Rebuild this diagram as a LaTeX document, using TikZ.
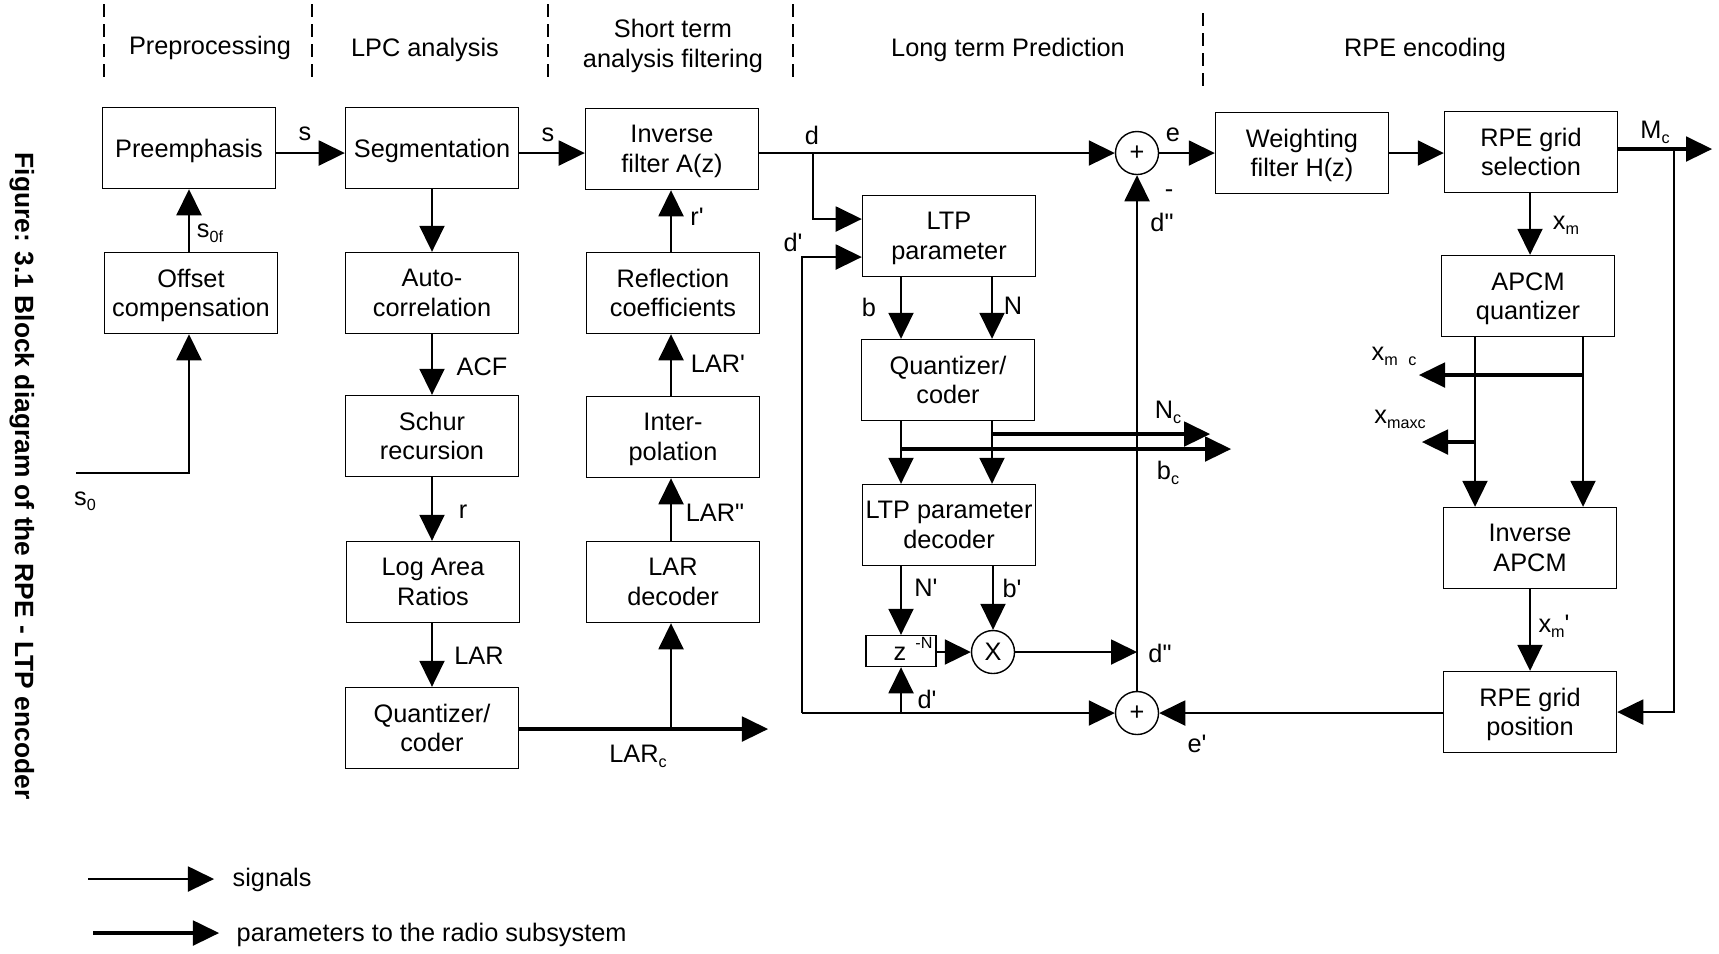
\documentclass[tikz,border=0pt]{standalone}
\usepackage{fontspec}
\newfontfamily\af{Liberation Sans}
\usetikzlibrary{arrows.meta}
\newcommand{\mf}{\af\fontsize{7.2}{8.4}\selectfont}
\newcommand{\sbx}[1]{\raisebox{-1.4pt}{\fontsize{4.6}{5}\selectfont #1}}
\begin{document}
\begin{tikzpicture}[x=0.01cm,y=-0.01cm, font=\mf,
  Tri/.tip={Triangle[length=2.6mm,width=2.55mm,line width=0pt]},
  blk/.style={draw, line width=0.4pt, minimum width=1.73cm, minimum height=0.81cm, inner sep=0pt, align=center, text depth=0pt},
  sumc/.style={circle, draw, line width=0.4pt, minimum size=0.43cm, inner sep=0pt},
  sig/.style={line width=0.4pt, -{Tri}},
  par/.style={line width=1.2pt, -{Tri}},
  hd/.style={line width=0.4pt, dash pattern=on 0.13cm off 0.07cm},
  lbl/.style={inner sep=0pt}]
\path[use as bounding box] (0,0) rectangle (1719,953);

% headers
\draw[hd] (104,4) -- (104,79);
\draw[hd] (312,4) -- (312,79);
\draw[hd] (548,4) -- (548,79);
\draw[hd] (793,4) -- (793,79);
\draw[hd] (1203,13) -- (1203,88);
\node[lbl] (h1) at (210,48) {Preprocessing};
\node[lbl] (h2) at (425,50) {LPC analysis};
\node[lbl, align=center] (h3) at (673,46) {Short term\\analysis filtering};
\node[lbl] (h4) at (1008,50) {Long term Prediction};
\node[lbl] (h5) at (1425,50) {RPE encoding};

% caption
\node[rotate=-90, font=\af\bfseries\fontsize{7.5}{9}\selectfont] (cap) at (22,476) {Figure: 3.1 Block diagram of the RPE - LTP encoder};

% blocks
\node[blk] (pre) at (189,148) {Preemphasis};
\node[blk] (seg) at (432,148) {Segmentation};
\node[blk] (inv) at (672,149) {Inverse\\filter A(z)};
\node[blk] (off) at (191,293) {Offset\\compensation};
\node[blk] (acr) at (432,293) {Auto-\\correlation};
\node[blk] (ref) at (673,293) {Reflection\\coefficients};
\node[blk] (sch) at (432,436) {Schur\\recursion};
\node[blk] (itp) at (673,437) {Inter-\\polation};
\node[blk] (lar) at (433,582) {Log Area\\Ratios};
\node[blk] (lard) at (673,582) {LAR\\decoder};
\node[blk] (qc1) at (432,728) {Quantizer/\\coder};
\node[blk] (ltp) at (949,236) {LTP\\parameter};
\node[blk] (qc2) at (948,380) {Quantizer/\\coder};
\node[blk] (ltpd) at (949,525) {LTP parameter\\decoder};
\node[draw, line width=0.4pt, minimum width=0.7cm, minimum height=0.31cm, inner sep=0pt] (z) at (901,651) {};
\node[lbl] (zt) at (900,654) {z};
\node[lbl, font=\af\fontsize{4.6}{5}\selectfont] (zn) at (924,643) {-N};
\node[sumc] (x) at (993,652) {X};
\node[sumc] (p1) at (1137,153) {+};
\node[sumc] (p2) at (1137,713) {+};
\node[blk] (wf) at (1302,153) {Weighting\\filter H(z)};
\node[blk] (rgs) at (1531,152) {RPE grid\\selection};
\node[blk] (apq) at (1528,296) {APCM\\quantizer};
\node[blk] (iap) at (1530,548) {Inverse\\APCM};
\node[blk] (rgp) at (1530,712) {RPE grid\\position};

% left part
\draw[sig] (pre.east |- 0,153) -- (seg.west |- 0,153);
\draw[sig] (seg.east |- 0,153) -- (inv.west |- 0,153);
\draw[sig] (off.north -| 189,0) -- (pre.south -| 189,0);
\coordinate (s0) at (76,473);
\draw[sig] (s0) -| (off.south -| 189,0);
\draw[sig] (seg.south -| 432,0) -- (acr.north -| 432,0);
\draw[sig] (acr.south -| 432,0) -- (sch.north -| 432,0);
\draw[sig] (sch.south -| 432,0) -- (lar.north -| 432,0);
\draw[sig] (lar.south -| 432,0) -- (qc1.north -| 432,0);
\coordinate (larc) at (768,729);
\draw[par] (qc1.east |- larc) -- (larc);
\draw[sig] (lard.south |- larc) ++(-2,0) coordinate (lbr) -- (lbr |- lard.south);
\draw[sig] (lard.north -| lbr) -- (itp.south -| lbr);
\draw[sig] (itp.north -| lbr) -- (ref.south -| lbr);
\draw[sig] (ref.north -| lbr) -- (inv.south -| lbr);

% LTP part
\draw[sig] (inv.east |- p1.west) -- (p1.west);
\coordinate (dbr) at (813,153);
\draw[sig] (dbr) |- (ltp.west |- 0,219);
\coordinate (dpc) at (802,713);
\draw[sig] (dpc) |- (ltp.west |- 0,257);
\draw[sig] (dpc) -- (p2.west);
\draw[sig] (z.south |- dpc) -- (z.south);
\draw[sig] (ltp.south -| 901,0) -- (qc2.north -| 901,0);
\draw[sig] (ltp.south -| 992,0) -- (qc2.north -| 992,0);
\draw[sig] (qc2.south -| 901,0) -- (ltpd.north -| 901,0);
\draw[sig] (qc2.south -| 992,0) -- (ltpd.north -| 992,0);
\coordinate (ncs) at (992,434);
\coordinate (nce) at (1210,434);
\draw[par] (ncs) -- (nce);
\coordinate (bcs) at (901,449);
\coordinate (bce) at (1231,449);
\draw[par] (bcs) -- (bce);
\draw[sig] (ltpd.south -| z.north) -- (z.north);
\draw[sig] (ltpd.south -| x.north) -- (x.north);
\draw[sig] (z.east |- x.west) -- (x.west);
\draw[sig] (x.east) -- (x.east -| p1.south);
\draw[sig] (p2.north) -- (p1.south);
\draw[sig] (p2.east -| rgp.west) -- (p2.east);

% RPE part
\draw[sig] (p1.east) -- (wf.west |- p1.east);
\draw[sig] (wf.east) -- (rgs.west |- wf.east);
\coordinate (mce) at (1712,149);
\draw[par] (rgs.east |- mce) -- (mce);
\coordinate (mcb) at (1674,149);
\draw[sig] (mcb) |- (rgp.east);
\draw[sig] (rgs.south -| 1530,0) -- (apq.north -| 1530,0);
\draw[sig] (apq.south -| 1475,0) -- (iap.north -| 1475,0);
\draw[sig] (apq.south -| 1583,0) -- (iap.north -| 1583,0);
\coordinate (xmcs) at (1583,375);
\coordinate (xmce) at (1419,375);
\draw[par] (xmcs) -- (xmce);
\coordinate (xmxs) at (1475,442);
\coordinate (xmxe) at (1422,442);
\draw[par] (xmxs) -- (xmxe);
\draw[sig] (iap.south) -- (rgp.north);

% labels
\node[lbl] at (305,134) {s};
\node[lbl] at (548,135) {s};
\node[lbl] at (210,233) {s\sbx{0f}};
\node[lbl] at (85,501) {s\sbx{0}};
\node[lbl] at (482,367) {ACF};
\node[lbl] at (463,512) {r};
\node[lbl] at (479,656) {LAR};
\node[lbl] at (697,217) {r'};
\node[lbl] at (718,364) {LAR'};
\node[lbl] at (715,513) {LAR"};
\node[lbl] at (638,756) {LAR\sbx{c}};
\node[lbl] at (812,135) {d};
\node[lbl] at (793,242) {d'};
\node[lbl] at (869,307) {b};
\node[lbl] at (1013,306) {N};
\node[lbl] at (1168,412) {N\sbx{c}};
\node[lbl] at (1168,473) {b\sbx{c}};
\node[lbl] at (926,588) {N'};
\node[lbl] at (1012,588) {b'};
\node[lbl] at (927,699) {d'};
\node[lbl] at (1160,653) {d"};
\node[lbl] at (1169,194) {-};
\node[lbl] at (1162,222) {d"};
\node[lbl] at (1173,135) {e};
\node[lbl] at (1197,744) {e'};
\node[lbl] at (1655,132) {M\sbx{c}};
\node[lbl] at (1566,225) {x\sbx{m}};
\node[lbl] at (1394,356) {x\sbx{m\hspace{3pt}c}};
\node[lbl] at (1400,419) {x\sbx{maxc}};
\node[lbl] at (1554,626) {x\sbx{m}'};

% legend
\coordinate (l1s) at (88,879);
\coordinate (l1e) at (214,879);
\draw[sig] (l1s) -- (l1e);
\node[lbl, anchor=west] (l1t) at (232,880) {signals};
\coordinate (l2s) at (93,933);
\coordinate (l2e) at (219,933);
\draw[par] (l2s) -- (l2e);
\node[lbl, anchor=west] (l2t) at (236,935) {parameters to the radio subsystem};
\end{tikzpicture}
\end{document}
